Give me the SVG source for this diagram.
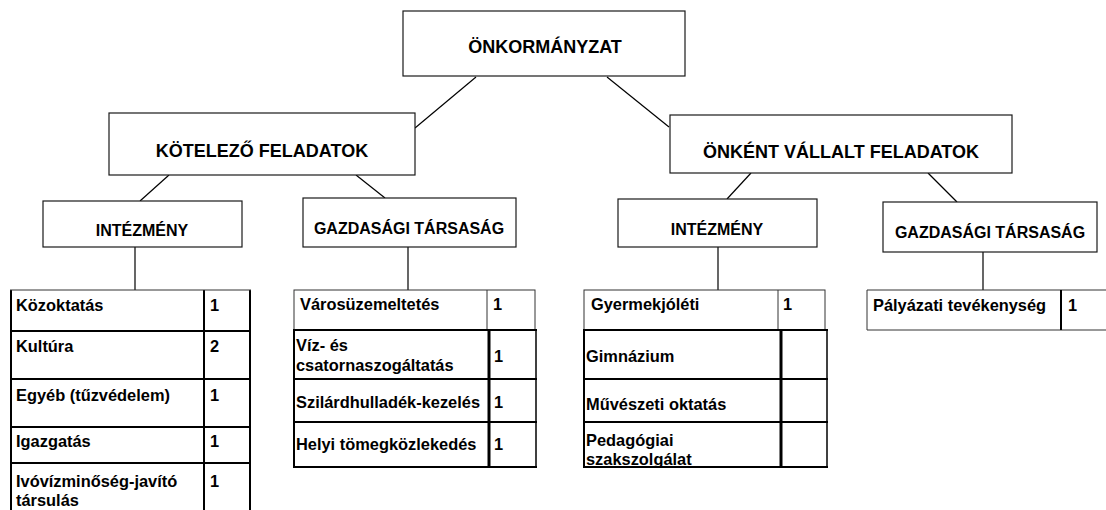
<svg xmlns="http://www.w3.org/2000/svg" width="1106" height="510" viewBox="0 0 1106 510">
  <style>
    .box { fill: #fff; stroke: #1a1a1a; stroke-width: 1.2; }
    .h1 { font-family: "Liberation Sans", Arial, sans-serif; font-weight: bold; font-size: 18px; fill: #000; text-anchor: middle; }
    .h2 { font-family: "Liberation Sans", Arial, sans-serif; font-weight: bold; font-size: 16px; fill: #000; text-anchor: middle; }
    .t { font-family: "Liberation Sans", Arial, sans-serif; font-weight: bold; font-size: 16.4px; fill: #000; }
    .thin { stroke: #333; stroke-width: 1; fill: none; }
    .thick { stroke: #000; stroke-width: 2; fill: none; }
    .conn line { stroke: #000; stroke-width: 1.2; }
  </style>
  <rect width="1106" height="510" fill="#fff"/>

  <g id="connectors" class="conn">
    <line x1="476" y1="77" x2="415" y2="128"/>
    <line x1="607" y1="77" x2="669" y2="127"/>
    <line x1="169" y1="175" x2="140" y2="201"/>
    <line x1="356" y1="175" x2="385" y2="198"/>
    <line x1="751" y1="173" x2="727" y2="199"/>
    <line x1="928" y1="173" x2="957" y2="202"/>
    <line x1="135" y1="247" x2="135" y2="290"/>
    <line x1="408" y1="247" x2="408" y2="290"/>
    <line x1="718" y1="247" x2="718" y2="290"/>
    <line x1="983" y1="252" x2="983" y2="290"/>
  </g>

  <g id="onkormanyzat">
    <rect class="box" x="403" y="11" width="282" height="65"/>
    <text class="h1" x="545" y="53">ÖNKORMÁNYZAT</text>
  </g>
  <g id="kotelezo">
    <rect class="box" x="109" y="113" width="306" height="62"/>
    <text class="h1" x="262" y="157">KÖTELEZŐ FELADATOK</text>
  </g>
  <g id="onkent">
    <rect class="box" x="670" y="115" width="342" height="58"/>
    <text class="h1" x="841" y="158">ÖNKÉNT VÁLLALT FELADATOK</text>
  </g>
  <g id="intezmeny-left">
    <rect class="box" x="43" y="201" width="199" height="46"/>
    <text class="h2" x="142" y="236">INTÉZMÉNY</text>
  </g>
  <g id="gazdasagi-left">
    <rect class="box" x="303" y="198" width="213" height="49"/>
    <text class="h2" x="409" y="234">GAZDASÁGI TÁRSASÁG</text>
  </g>
  <g id="intezmeny-right">
    <rect class="box" x="618" y="199" width="199" height="48"/>
    <text class="h2" x="717" y="235">INTÉZMÉNY</text>
  </g>
  <g id="gazdasagi-right">
    <rect class="box" x="883" y="202" width="214" height="50"/>
    <text class="h2" x="990" y="238">GAZDASÁGI TÁRSASÁG</text>
  </g>

  <g id="table-kotelezo-intezmeny">
    <line class="thick" x1="11" y1="290" x2="11" y2="510"/>
    <line class="thick" x1="204" y1="290" x2="204" y2="510"/>
    <line class="thick" x1="250" y1="290" x2="250" y2="510"/>
    <line class="thin" x1="10" y1="290" x2="251" y2="290"/>
    <line class="thick" x1="10" y1="331" x2="251" y2="331"/>
    <line class="thick" x1="10" y1="379" x2="251" y2="379"/>
    <line class="thick" x1="10" y1="427" x2="251" y2="427"/>
    <line class="thick" x1="10" y1="463" x2="251" y2="463"/>
    <text class="t" x="16" y="311">Közoktatás</text><text class="t" x="210" y="311">1</text>
    <text class="t" x="16" y="352">Kultúra</text><text class="t" x="210" y="352">2</text>
    <text class="t" x="16" y="401">Egyéb (tűzvédelem)</text><text class="t" x="210" y="401">1</text>
    <text class="t" x="16" y="447">Igazgatás</text><text class="t" x="210" y="447">1</text>
    <text class="t" x="16" y="487">Ivóvízminőség-javító</text><text class="t" x="210" y="487">1</text>
    <text class="t" x="16" y="506">társulás</text>
  </g>

  <g id="table-kotelezo-gazdasagi">
    <rect class="thin" x="294" y="290" width="241" height="40"/>
    <line class="thin" x1="487" y1="290" x2="487" y2="330"/>
    <line class="thick" x1="294" y1="330" x2="294" y2="467"/>
    <line class="thick" x1="489" y1="330" x2="489" y2="467" style="stroke-width:3"/>
    <line class="thick" x1="536" y1="330" x2="536" y2="467" style="stroke-width:1.5"/>
    <line class="thick" x1="293" y1="330" x2="537" y2="330"/>
    <line class="thick" x1="293" y1="379" x2="537" y2="379"/>
    <line class="thick" x1="293" y1="422" x2="537" y2="422"/>
    <line class="thick" x1="293" y1="467" x2="537" y2="467"/>
    <text class="t" x="300" y="310">Városüzemeltetés</text><text class="t" x="493" y="310">1</text>
    <text class="t" x="296" y="351">Víz- és</text>
    <text class="t" x="296" y="371">csatornaszogáltatás</text><text class="t" x="494" y="362">1</text>
    <text class="t" x="296" y="408">Szilárdhulladék-kezelés</text><text class="t" x="494" y="408">1</text>
    <text class="t" x="296" y="450">Helyi tömegközlekedés</text><text class="t" x="494" y="450">1</text>
  </g>

  <g id="table-onkent-intezmeny">
    <rect class="thin" x="584" y="290" width="241" height="40"/>
    <line class="thin" x1="778" y1="290" x2="778" y2="330"/>
    <line class="thick" x1="584" y1="330" x2="584" y2="467"/>
    <line class="thick" x1="781" y1="330" x2="781" y2="467" style="stroke-width:3"/>
    <line class="thick" x1="827" y1="330" x2="827" y2="467" style="stroke-width:1.5"/>
    <line class="thick" x1="583" y1="330" x2="828" y2="330"/>
    <line class="thick" x1="583" y1="379" x2="828" y2="379"/>
    <line class="thick" x1="583" y1="422" x2="828" y2="422"/>
    <text class="t" x="591" y="310">Gyermekjóléti</text><text class="t" x="783" y="310">1</text>
    <text class="t" x="586" y="362">Gimnázium</text>
    <text class="t" x="586" y="410">Művészeti oktatás</text>
    <text class="t" x="586" y="446">Pedagógiai</text>
    <text class="t" x="586" y="465">szakszolgálat</text>
    <line class="thick" x1="583" y1="467" x2="828" y2="467"/>
  </g>

  <g id="table-onkent-gazdasagi">
    <line class="thin" x1="867" y1="290" x2="1106" y2="290"/>
    <line class="thin" x1="867" y1="330" x2="1106" y2="330"/>
    <line class="thin" x1="867" y1="290" x2="867" y2="330"/>
    <line class="thick" x1="1061" y1="290" x2="1061" y2="330"/>
    <text class="t" x="873" y="311">Pályázati tevékenység</text><text class="t" x="1068" y="311">1</text>
  </g>
</svg>
